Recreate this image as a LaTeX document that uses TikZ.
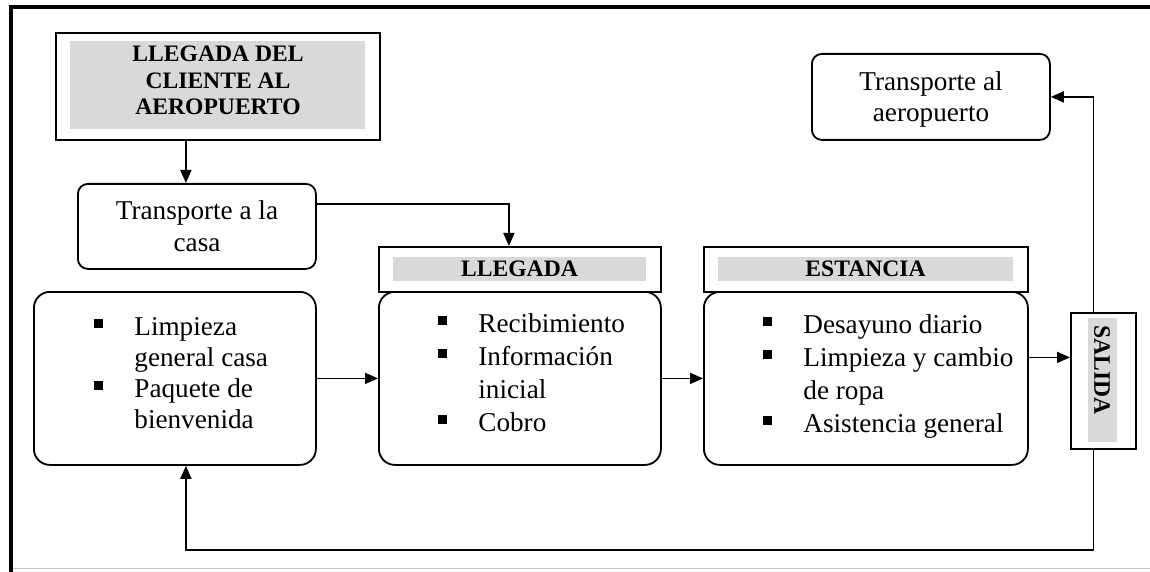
\documentclass[tikz,border=0pt]{standalone}
\usepackage{fontspec}
\setmainfont{Liberation Serif}
\usetikzlibrary{arrows.meta}

% small square bullet and one list line
\newcommand\sqbul{\raisebox{3.5pt}{\rule{4.5pt}{4.5pt}}}
\newcommand\itm[1]{\makebox[20pt][l]{\sqbul}#1}
\newcommand\cont[1]{\hspace*{20pt}#1}

\tikzset{
  frame/.style={draw, line width=0.9pt, inner sep=0pt, anchor=north west},
  rframe/.style={frame, rounded corners=8pt},
  sframe/.style={frame, rounded corners=5pt},
  shade/.style={fill=gray!30},
  txt/.style={inner sep=0pt, font=\fontsize{13.6}{16.5}\selectfont},
  head/.style={inner sep=0pt, font=\bfseries\fontsize{11.8}{13.25}\selectfont},
  arr/.style={line width=0.9pt, -{Triangle[length=6.5pt,width=5.5pt]}},
  link/.style={line width=0.9pt},
}

\begin{document}
\begin{tikzpicture}[x=0.5pt,y=-0.5pt]
\useasboundingbox (0,0) rectangle (1150,572);

% page frame
\draw[gray!45, line width=0.8pt] (10.5,568.5) -- (1150,568.5);
\draw[line width=2pt] (1150,7) -- (10.5,7) -- (10.5,572);

% arrival at the airport
\node[frame, minimum width=162pt, minimum height=53.5pt] (top) at (55,32) {};
\fill[shade] (70,41) rectangle (365,129);
\node[head, anchor=base] (toptxt) at (218,62)
  {\begin{tabular}[t]{@{}c@{}}LLEGADA DEL\\ CLIENTE AL\\ AEROPUERTO\end{tabular}};

% transport to the house
\node[sframe, minimum width=119pt, minimum height=42.5pt] (tcasa) at (77,183) {};
\node[txt, anchor=base] (tcasatxt) at (197,220)
  {\fontsize{13.6}{16}\selectfont\begin{tabular}[t]{@{}c@{}}Transporte a la\\ casa\end{tabular}};

% house preparation
\node[rframe, minimum width=141pt, minimum height=86.5pt] (limp) at (33,291) {};
\node[txt, anchor=base west] (limptxt) at (94,335)
  {\fontsize{13.6}{15.5}\selectfont\begin{tabular}[t]{@{}l@{}}\itm{Limpieza}\\ \cont{general casa}\\ \itm{Paquete de}\\ \cont{bienvenida}\end{tabular}};

% arrival
\node[frame, minimum width=141pt, minimum height=22.5pt] (llh) at (378,246) {};
\fill[shade] (393,257) rectangle (646,281);
\node[head, anchor=base] (llhtxt) at (519.5,277) {LLEGADA};
\node[rframe, minimum width=141pt, minimum height=86.5pt] (lleg) at (378,291) {};
\node[txt, anchor=base west] (llegtxt) at (438,332)
  {\begin{tabular}[t]{@{}l@{}}\itm{Recibimiento}\\ \itm{Información}\\ \cont{inicial}\\ \itm{Cobro}\end{tabular}};

% stay
\node[frame, minimum width=162pt, minimum height=22.5pt] (esth) at (703,246) {};
\fill[shade] (718,257) rectangle (1013,281);
\node[head, anchor=base] (esthtxt) at (865.5,277) {ESTANCIA};
\node[rframe, minimum width=162pt, minimum height=86.5pt] (est) at (703,291) {};
\node[txt, anchor=base west] (esttxt) at (763,333)
  {\begin{tabular}[t]{@{}l@{}}\itm{Desayuno diario}\\ \itm{Limpieza y cambio}\\ \cont{de ropa}\\ \itm{Asistencia general}\end{tabular}};

% departure
\node[frame, minimum width=32.5pt, minimum height=68pt] (sal) at (1070,312) {};
\fill[shade] (1088,318) rectangle (1117,442);
\node[head, rotate=-90] (saltxt) at (1102,370) {SALIDA};

% transport to the airport
\node[sframe, minimum width=119pt, minimum height=43pt] (tap) at (811,53) {};
\node[txt, anchor=base] (taptxt) at (931,91)
  {\fontsize{13.6}{15.5}\selectfont\begin{tabular}[t]{@{}c@{}}Transporte al\\ aeropuerto\end{tabular}};

% connectors
\coordinate (loop) at (0,550);
\draw[arr] ([xshift=-16pt]top.south) -- ([xshift=-16pt]top.south |- tcasa.north);
\draw[arr] ([yshift=11pt]tcasa.east) -| ([xshift=-5.5pt]llh.north);
\draw[arr] (limp.east) -- (lleg.west);
\draw[arr] (lleg.east) -- (est.west);
\draw[arr] ([yshift=10.5pt]est.east) -- ([yshift=10.5pt]est.east -| sal.west);
\draw[arr] ([xshift=-5pt]sal.north) |- (tap.east);
\draw[arr] ([xshift=-5pt]sal.south) -- ([xshift=-5pt]sal.south |- loop)
  -| ([xshift=5.5pt]limp.south);
\end{tikzpicture}
\end{document}
